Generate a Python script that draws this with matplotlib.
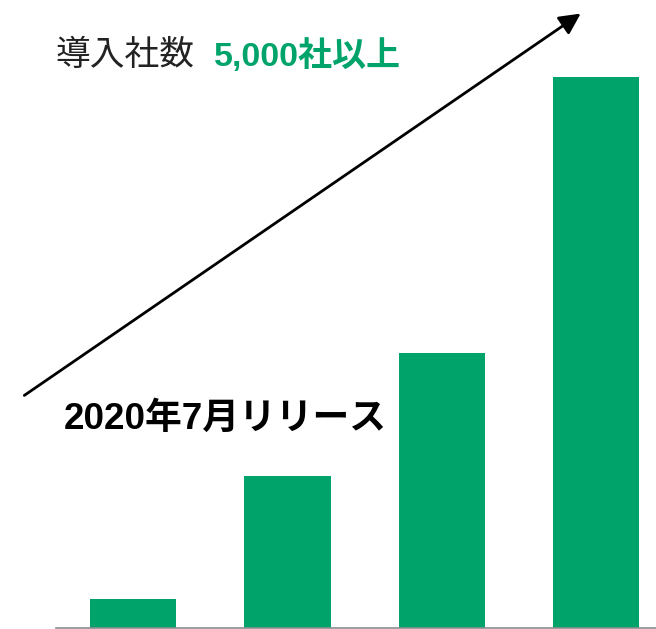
import matplotlib
matplotlib.use("Agg")
import matplotlib.pyplot as plt

plt.rcParams['font.family'] = ['Liberation Sans', 'Noto Sans CJK JP', 'DejaVu Sans']

# data
categories = ["A", "B", "C", "D"]
values = [29, 152, 275, 551]
green = "#00A36A"

W, H = 656, 629
fig = plt.figure(figsize=(W / 100, H / 100), dpi=100)

# axes: baseline from x=56px to right edge
ax = fig.add_axes([56 / W, 1 / H, 1 - 56 / W, 1 - 1 / H])
x = range(len(categories))
ax.bar(x, values, width=0.56, color=green, zorder=2)
ax.set_xlim(-0.5, -0.5 + 600 / 154.3)
ax.set_ylim(0, 628)
for s in ["top", "right", "left"]:
    ax.spines[s].set_visible(False)
ax.spines["bottom"].set_color("#8c8c8c")
ax.spines["bottom"].set_linewidth(1.2)
ax.set_xticks([])
ax.set_yticks([])

# arrow in figure pixel coords (top-origin converted)
def fp(px, py):
    return (px / W, 1 - py / H)

fig.add_artist(matplotlib.patches.FancyArrowPatch(
    fp(22, 397), fp(583, 12), transform=fig.transFigure,
    arrowstyle="-|>,head_length=8,head_width=4", color="black",
    linewidth=2, mutation_scale=1.6))

fig.text(*fp(55, 56), "導入社数", fontsize=25, color="#222222", va="center", ha="left")
fig.text(*fp(214, 56), "5,000社以上", fontsize=24.5, color=green, fontweight="bold",
         va="center", ha="left")
fig.text(*fp(64, 419), "2020年7月リリース", fontsize=26.5, color="black", fontweight="bold",
         va="center", ha="left")

fig.savefig("out.png", dpi=100)
